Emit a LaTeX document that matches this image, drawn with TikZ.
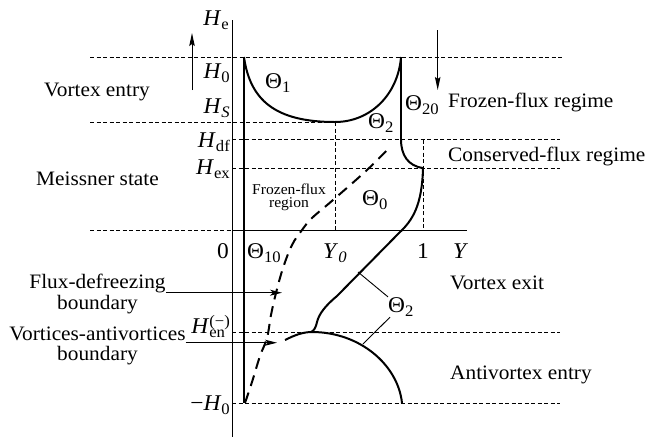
\documentclass[tikz,border=0pt]{standalone}
\usepackage{fontspec}
\setmainfont{Liberation Serif}[FakeStretch=1.04]
\usetikzlibrary{arrows.meta}
\newcommand{\subsz}{\fontsize{16}{16}\selectfont}
\newcommand{\sbs}[1]{\raisebox{-0.22em}{\subsz #1}}
\newcommand{\supsub}[2]{\rlap{\raisebox{0.3em}{\subsz #1}}\rlap{\raisebox{-0.22em}{\subsz #2}}\phantom{\subsz #1}}
\tikzset{
  axisline/.style={line width=1pt},
  curveline/.style={line width=2pt},
  guide/.style={line width=0.8pt, dash pattern=on 4pt off 2.5pt},
  bdry/.style={line width=2pt, dash pattern=on 11pt off 7pt},
  leader/.style={line width=0.9pt},
  mlab/.style={inner sep=0pt, font=\fontsize{22.5}{24}\selectfont},
  tlab/.style={inner sep=0pt, font=\fontsize{20.5}{22}\selectfont},
  tblock/.style={inner sep=0pt, align=center, font=\fontsize{20.5}{20.5}\selectfont},
  harrow/.style={line width=1pt, -{Stealth[length=12pt,width=6pt,inset=3pt]}},
  varrow/.style={line width=1pt, -{Stealth[length=13pt,width=5.5pt,inset=2pt]}}
}
\begin{document}
\begin{tikzpicture}[x=1pt,y=-1pt]
\useasboundingbox (0,0) rectangle (647,440);
% guide lines
\draw[guide] (90,57) -- (562,57);
\draw[guide] (90,122) -- (335,122);
\draw[guide] (232,139.5) -- (560,139.5);
\draw[guide] (232,168) -- (560,168);
\draw[guide] (90,230) -- (232,230);
\draw[guide] (232,332) -- (560,332);
\draw[guide] (232,403) -- (560,403);
\draw[guide] (335,122) -- (335,230);
\draw[guide] (423,139.5) -- (423,230);
% axes
\draw[axisline] (232,20) -- (232,437);
\draw[axisline] (232,230) -- (467,230);
% thick lines and curves
\draw[curveline] (244,57) -- (244,403);
\draw[curveline] (401,57) -- (401,139.5);
\draw[curveline] (244,57) .. controls (250,100) and (275,122) .. (335,122)
   .. controls (370,122) and (398,95) .. (401,57);
\draw[curveline] (401,139.5) .. controls (401,155) and (408,166) .. (423,168);
\draw[curveline] (423,168) .. controls (422,205) and (413,220) .. (399,233)
   -- (337,296) .. controls (325,306) and (319,314) .. (317,322)
   .. controls (316,327) and (314,331) .. (311,332);
\draw[curveline] (285,340) .. controls (295,335) and (303,332) .. (312,332)
   .. controls (360,332) and (398,365) .. (402,403);
\draw[bdry] plot[smooth,tension=0.6] coordinates {(245,403) (252,382) (260,356) (267,338) (271,315) (276,293) (283,268) (292,245) (302,230) (312,218) (333,200) (367,170) (390,147)};
% axis labels
\node[mlab, anchor=base east] (lHe) at (229,25) {\textit{H}\sbs{e}};
\node[mlab, anchor=base east] (lH0) at (230,78) {\textit{H}\sbs{0}};
\node[mlab, anchor=base east] (lHS) at (230,113) {\textit{H}\sbs{\itshape S}};
\node[mlab, anchor=base east] (lHdf) at (230,147) {\textit{H}\sbs{df}};
\node[mlab, anchor=base east] (lHex) at (230,174) {\textit{H}\sbs{ex}};
\node[mlab, anchor=base east] (lHen) at (230,333) {\textit{H}\supsub{(−)}{en}};
\node[mlab, anchor=base east] (lmH0) at (230,410) {−\textit{H}\sbs{0}};
\node[mlab, anchor=base east] (lzero) at (229,258) {0};
\node[mlab, anchor=base west] (lY0) at (323,258) {\textit{Y}\sbs{\itshape 0}};
\node[mlab, anchor=base west] (lone) at (417,258) {1};
\node[mlab, anchor=base west] (lY) at (453,258) {\textit{Y}};
% Theta labels
\node[mlab, anchor=base west] (t1) at (265,88) {Θ\sbs{1}};
\node[mlab, anchor=base west] (t2a) at (368,128) {Θ\sbs{2}};
\node[mlab, anchor=base west] (t20) at (405,110) {Θ\sbs{20}};
\node[mlab, anchor=base west] (t0) at (362,205) {Θ\sbs{0}};
\node[mlab, anchor=base west] (t10) at (247,258) {Θ\sbs{10}};
\node[mlab, anchor=base west] (t2b) at (388,312) {Θ\sbs{2}};
\coordinate (q1) at (358,272);
\coordinate (q2) at (363,344);
\draw[leader] (q1) -- (t2b.north west);
\draw[leader] (q2) -- ([xshift=2pt]t2b.south west);
% region texts
\node[tlab, anchor=base west] (frz) at (448,107) {Frozen-flux regime};
\node[tlab, anchor=base west] (cons) at (448,161) {Conserved-flux regime};
\node[tlab, anchor=base west] (vex) at (450,289) {Vortex exit};
\node[tlab, anchor=base west] (aent) at (450,379) {Antivortex entry};
\node[tlab, anchor=base] (vent) at (97,96.7) {Vortex entry};
\node[tlab, anchor=base] (meis) at (97.5,185) {Meissner state};
\node[inner sep=0pt, align=center, font=\fontsize{15}{13}\selectfont] (ffr) at (289,197) {Frozen-flux\\region};
\node[tblock] (fd) at (97.5,294) {Flux-defreezing\\boundary};
\node[tblock] (va) at (97.5,346) {Vortices-antivortices\\boundary};
% arrows
\coordinate (fdE) at (282,292.7);
\coordinate (vaE) at (277,342.7);
\draw[harrow] (fd.east |- fdE) -- (fdE);
\draw[harrow] (va.east |- vaE) -- (vaE);
\coordinate (upS) at (192,90);
\coordinate (upE) at (192,33);
\coordinate (dnS) at (437.7,30);
\coordinate (dnE) at (437.7,90);
\draw[varrow] (upS) -- (upE);
\draw[varrow] (dnS) -- (dnE);
\end{tikzpicture}
\end{document}
